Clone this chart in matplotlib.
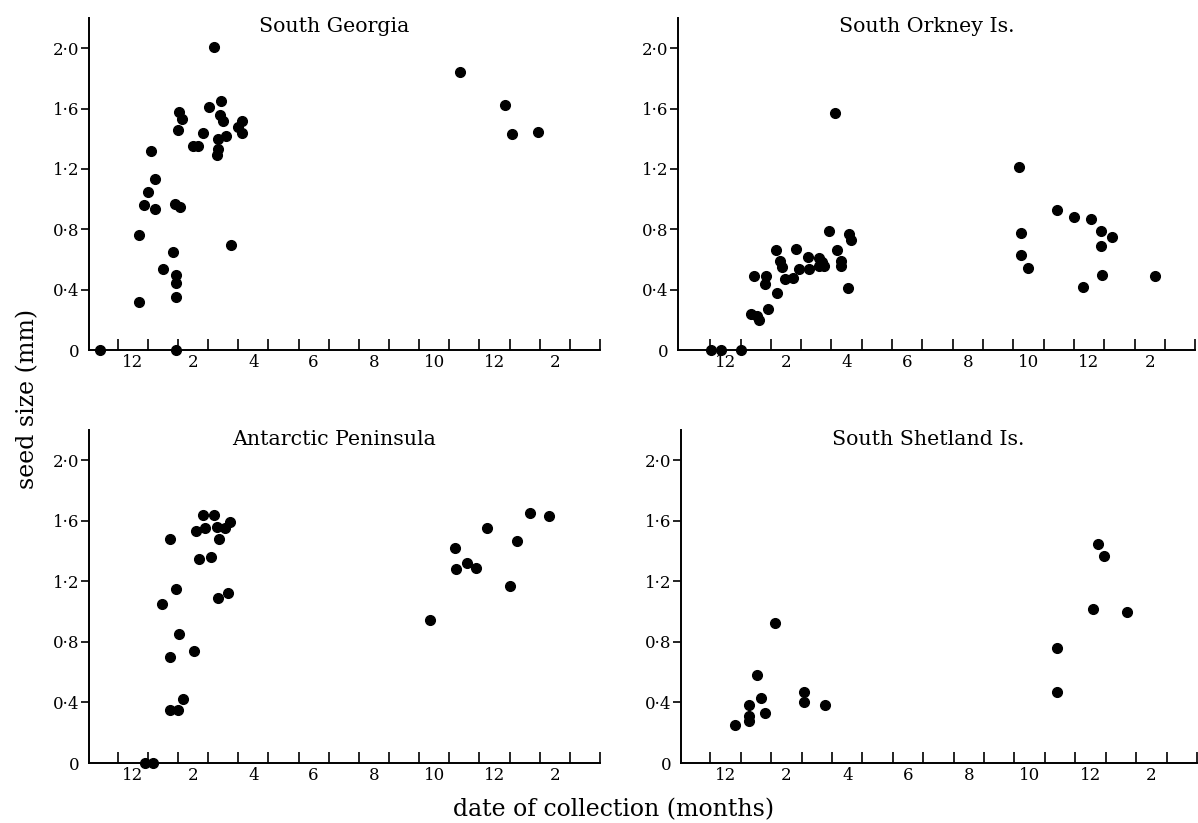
import matplotlib.pyplot as plt

plt.rcParams['font.family'] = ['DejaVu Serif']

# months on a running scale: 12 = Dec, 13 = Jan, 14 = Feb ... 24 = Dec next year, 26 = Feb
sg_month = [10.93, 12.21, 12.21, 12.37, 12.50, 12.60, 12.75, 12.74, 13.01, 13.33,
            13.39, 13.56, 13.43, 13.42, 13.43, 13.43, 13.49, 13.54, 13.64, 14.01,
            14.16, 14.32, 14.54, 14.70, 14.92, 14.88, 14.99, 14.84, 15.11, 14.84,
            14.80, 15.27, 15.48, 15.64, 15.64, 22.87, 24.36, 24.58, 25.45]
sg_size = [0.0, 0.32, 0.765, 0.96, 1.05, 1.32, 1.13, 0.935, 0.54, 0.65,
           0.97, 0.95, 0.50, 0.445, 0.35, 0.0, 1.46, 1.58, 1.53, 1.35,
           1.35, 1.44, 1.61, 2.01, 1.65, 1.56, 1.52, 1.40, 1.415, 1.33,
           1.29, 0.695, 1.48, 1.52, 1.44, 1.84, 1.625, 1.43, 1.445]

so_month = [11.54, 11.87, 12.50, 12.93, 12.86, 13.03, 13.12, 13.33, 13.31, 13.41,
            13.67, 13.72, 13.79, 13.86, 13.96, 14.23, 14.34, 14.44, 14.72, 14.77,
            15.09, 15.08, 15.20, 15.26, 15.43, 15.62, 15.69, 15.82, 15.82, 16.07,
            16.16, 16.06, 21.70, 21.77, 21.75, 21.99, 22.93, 23.51, 24.05, 24.39,
            24.39, 24.43, 23.79, 24.77, 26.18]
so_size = [0.0, 0.0, 0.0, 0.49, 0.24, 0.225, 0.20, 0.49, 0.44, 0.27,
           0.66, 0.38, 0.59, 0.55, 0.47, 0.48, 0.67, 0.54, 0.615, 0.54,
           0.61, 0.555, 0.58, 0.56, 0.79, 1.57, 0.665, 0.59, 0.555, 0.77,
           0.73, 0.41, 1.215, 0.775, 0.63, 0.545, 0.925, 0.88, 0.87, 0.79,
           0.69, 0.50, 0.42, 0.75, 0.49]

ap_month = [12.41, 12.66, 12.96, 13.23, 13.23, 13.23, 13.44, 13.50, 13.52, 13.68,
            14.03, 14.10, 14.19, 14.32, 14.40, 14.59, 14.68, 14.80, 14.85, 14.83,
            15.06, 15.22, 15.16, 21.85, 22.70, 22.74, 23.10, 23.38, 23.74, 24.53,
            24.74, 25.17, 25.80]
ap_size = [0.0, 0.0, 1.05, 1.48, 0.70, 0.35, 1.15, 0.35, 0.85, 0.42,
           0.74, 1.53, 1.35, 1.64, 1.55, 1.36, 1.64, 1.56, 1.48, 1.09,
           1.55, 1.59, 1.12, 0.945, 1.42, 1.28, 1.32, 1.29, 1.55, 1.17,
           1.47, 1.65, 1.63]

ss_month = [12.32, 12.76, 12.76, 12.76, 13.04, 13.16, 13.28, 13.63, 14.57, 14.59,
            15.27, 22.90, 22.90, 24.09, 24.26, 24.46, 25.20]
ss_size = [0.25, 0.38, 0.31, 0.275, 0.58, 0.43, 0.33, 0.925, 0.47, 0.40,
           0.38, 0.76, 0.47, 1.02, 1.45, 1.37, 1.00]

titles = ['South Georgia', 'South Orkney Is.', 'Antarctic Peninsula', 'South Shetland Is.']
y_ticks = [0, 0.4, 0.8, 1.2, 1.6, 2.0]
y_labels = ['0', '0·4', '0·8', '1·2', '1·6', '2·0']
x_label_pos = [12, 14, 16, 18, 20, 22, 24, 26]
x_labels = ['12', '2', '4', '6', '8', '10', '12', '2']
month_edges = [m + 0.5 for m in range(11, 28)]

fig = plt.figure(figsize=(11.98, 8.23), dpi=100)

# [left, bottom, width, height] in figure fraction, plus left x limit
boxes = [
    ([0.0743, 0.5747, 0.4265, 0.4034], 10.55),
    ([0.5660, 0.5747, 0.4316, 0.4034], 10.44),
    ([0.0743, 0.0729, 0.4265, 0.4046], 10.55),
    ([0.5684, 0.0729, 0.4307, 0.4046], 10.53),
]
data = [(sg_month, sg_size), (so_month, so_size), (ap_month, ap_size), (ss_month, ss_size)]

for (box, xleft), (mx, sz), title in zip(boxes, data, titles):
    ax = fig.add_axes(box)
    ax.plot(mx, sz, 'o', color='black', markersize=7, clip_on=False, zorder=5)
    ax.set_xlim(xleft, 27.5)
    ax.set_ylim(0, 2.2)
    for s in ['top', 'right']:
        ax.spines[s].set_visible(False)
    for s in ['left', 'bottom']:
        ax.spines[s].set_linewidth(1.4)

    ax.set_yticks(y_ticks, y_labels)
    ax.tick_params(axis='y', direction='out', length=6, width=1.2, pad=1, labelsize=12)
    ax.get_yticklines()[0].set_visible(False)
    ax.get_yticklines()[1].set_visible(False)

    ax.set_xticks(month_edges, [''] * len(month_edges))
    ax.set_xticks(x_label_pos, x_labels, minor=True)
    ax.tick_params(axis='x', which='major', direction='in', length=8, width=1.2)
    ax.tick_params(axis='x', which='minor', length=0, pad=3, labelsize=12)

    ax.text(0.48, 0.973, title, transform=ax.transAxes, ha='center', va='center',
            fontsize=14.8)

fig.text(0.023, 0.515, 'seed size (mm)', rotation=90, ha='center', va='center', fontsize=17)
fig.text(0.512, 0.016, 'date of collection (months)', ha='center', va='center', fontsize=17)

fig.savefig('out.png', dpi=100)
